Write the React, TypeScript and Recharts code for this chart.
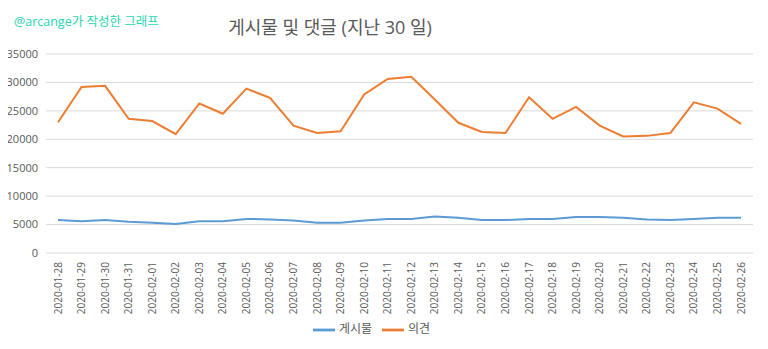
import { LineChart, Line, XAxis, YAxis, CartesianGrid, Legend } from 'recharts'

const DATES = [
  '2020-01-28', '2020-01-29', '2020-01-30', '2020-01-31', '2020-02-01', '2020-02-02',
  '2020-02-03', '2020-02-04', '2020-02-05', '2020-02-06', '2020-02-07', '2020-02-08',
  '2020-02-09', '2020-02-10', '2020-02-11', '2020-02-12', '2020-02-13', '2020-02-14',
  '2020-02-15', '2020-02-16', '2020-02-17', '2020-02-18', '2020-02-19', '2020-02-20',
  '2020-02-21', '2020-02-22', '2020-02-23', '2020-02-24', '2020-02-25', '2020-02-26',
]

// 게시물 (posts)
const POSTS = [
  5800, 5600, 5800, 5500, 5300, 5100, 5600, 5600, 6000, 5900, 5700, 5300,
  5300, 5700, 6000, 6000, 6400, 6200, 5800, 5800, 6000, 6000, 6350, 6350,
  6200, 5900, 5800, 6000, 6200, 6200,
]

// 의견 (comments)
const COMMENTS = [
  23000, 29200, 29400, 23600, 23200, 20900, 26300, 24500, 28900, 27300, 22400, 21100,
  21400, 27900, 30600, 31000, 27000, 22900, 21300, 21100, 27400, 23600, 25700, 22400,
  20500, 20600, 21100, 26500, 25400, 22700,
]

const Y_TICKS = [0, 5000, 10000, 15000, 20000, 25000, 30000, 35000]

const FONT = '"Open Sans", "Noto Sans CJK KR", sans-serif'
const TEXT = '#595959'

const data = DATES.map((d, i) => ({ date: d, posts: POSTS[i], comments: COMMENTS[i] }))

// rotated date label, reading bottom to top, ending just under the axis
function DateTick(props: any) {
  const { x, payload } = props
  return (
    <g transform={`translate(${x},253)`}>
      <text
        transform="rotate(-90)"
        x={-9}
        y={0}
        dy="0.35em"
        textAnchor="end"
        fill={TEXT}
        fontSize={10}
        fontFamily={FONT}
      >
        {payload.value}
      </text>
    </g>
  )
}

export default function App() {
  return (
    <div style={{
      position: 'relative', width: 768, height: 349, margin: -8,
      background: '#fff', fontFamily: FONT, overflow: 'hidden',
    }}>
      <div style={{
        position: 'absolute', inset: 0, border: '1px solid #d9d9d9',
        boxSizing: 'border-box', pointerEvents: 'none', zIndex: 2,
      }} />
      <div style={{
        position: 'absolute', left: 14, top: 11, fontSize: 12.5,
        color: '#1fd6b0', whiteSpace: 'nowrap',
      }}>
        @arcange가 작성한 그래프
      </div>
      <div style={{
        position: 'absolute', left: 0, width: 660, top: 13, textAlign: 'center',
        fontSize: 18, color: TEXT, whiteSpace: 'nowrap',
      }}>
        게시물 및 댓글 (지난 30 일)
      </div>
      <LineChart
        width={768}
        height={349}
        data={data}
        margin={{ top: 54, right: 15, left: 0, bottom: 10 }}
      >
        <CartesianGrid horizontal vertical={false} stroke="#d9d9d9" strokeWidth={1} />
        <XAxis
          dataKey="date"
          interval={0}
          height={66}
          padding={{ left: 12, right: 12 }}
          axisLine={false}
          tickLine={false}
          tick={<DateTick />}
        />
        <YAxis
          width={46}
          domain={[0, 35000]}
          ticks={Y_TICKS}
          axisLine={false}
          tickLine={false}
          tick={{ fill: TEXT, fontSize: 11, fontFamily: FONT }}
        />
        <Legend
          verticalAlign="bottom"
          height={20}
          iconType="plainline"
          iconSize={22}
          wrapperStyle={{ fontSize: 12, fontFamily: FONT }}
          formatter={(value) => <span style={{ color: TEXT }}>{value}</span>}
        />
        <Line
          name="게시물"
          dataKey="posts"
          type="linear"
          stroke="#5b9bd5"
          strokeWidth={2}
          dot={false}
          isAnimationActive={false}
        />
        <Line
          name="의견"
          dataKey="comments"
          type="linear"
          stroke="#ed7d31"
          strokeWidth={2}
          dot={false}
          isAnimationActive={false}
        />
      </LineChart>
    </div>
  )
}
